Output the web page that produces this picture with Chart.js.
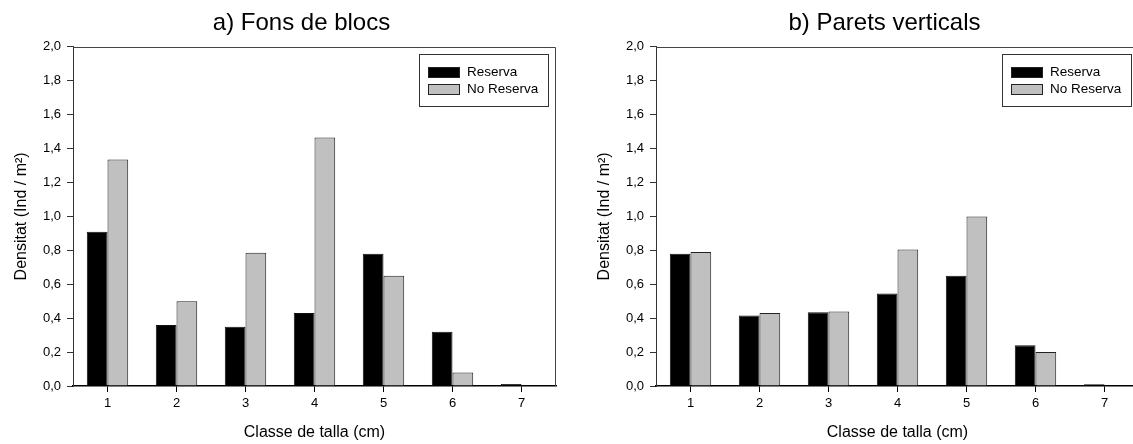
<!DOCTYPE html>
<html>
<head>
<meta charset="utf-8">
<script src="https://cdn.jsdelivr.net/npm/chart.js@4/dist/chart.umd.min.js"></script>
<style>
  html, body { margin: 0; padding: 0; background: #fff; overflow: hidden; width: 1133px; height: 444px; }
  #wrap { position: relative; width: 1133px; height: 444px; overflow: hidden; }
  canvas { position: absolute; top: 0; }
  #c1 { left: 0px; }
  #c2 { left: 583px; }
</style>
</head>
<body>
<div id="wrap">
  <canvas id="c1" width="603" height="444"></canvas>
  <canvas id="c2" width="603" height="444"></canvas>
</div>
<script>
// ---- Data ----
const categories = ['1', '2', '3', '4', '5', '6', '7'];
const seriesNames = ['Reserva', 'No Reserva'];
const titleA = 'a) Fons de blocs';
const titleB = 'b) Parets verticals';
const blocsReserva   = [0.91, 0.36, 0.35, 0.43, 0.78, 0.32, 0.012];
const blocsNoReserva = [1.335, 0.50, 0.785, 1.465, 0.65, 0.08, 0.0];
const paretsReserva   = [0.78, 0.415, 0.435, 0.545, 0.65, 0.24, 0.01];
const paretsNoReserva = [0.79, 0.43, 0.44, 0.805, 1.0, 0.20, 0.0];
const yTicks = [0, 0.2, 0.4, 0.6, 0.8, 1.0, 1.2, 1.4, 1.6, 1.8, 2.0];
const xTitle = 'Classe de talla (cm)';
const yTitle = 'Densitat (Ind / m\u00B2)';

const FONT = '"Liberation Sans", Arial, Helvetica, sans-serif';
const colors = ['#000000', '#c0c0c0'];

const framePlugin = {
  id: 'frame',
  afterDatasetsDraw(chart) {
    const { ctx, chartArea: a } = chart;
    ctx.save();
    ctx.strokeStyle = '#444';
    ctx.lineWidth = 1;
    ctx.beginPath();
    const t = Math.round(a.top) + 0.5;
    const r = Math.round(a.right) - 0.5;
    ctx.moveTo(a.left, t);
    ctx.lineTo(r, t);
    ctx.lineTo(r, a.bottom);
    ctx.stroke();
    ctx.restore();
  }
};

const boxLegend = {
  id: 'boxLegend',
  afterDraw(chart) {
    const { ctx, chartArea: a } = chart;
    const w = 129, h = 52;
    const x = Math.round(a.right - 8.5 - w), y = Math.round(a.top + 7.5);
    ctx.save();
    ctx.fillStyle = '#fff';
    ctx.fillRect(x, y, w, h);
    ctx.strokeStyle = '#333';
    ctx.lineWidth = 1;
    ctx.strokeRect(x + 0.5, y + 0.5, w, h);
    ctx.font = '13.5px ' + FONT;
    ctx.textBaseline = 'middle';
    ctx.textAlign = 'left';
    chart.data.datasets.forEach((ds, i) => {
      const cy = y + 18 + i * 17.5;
      const sy = Math.round(cy - 5.5);
      ctx.fillStyle = ds.backgroundColor;
      ctx.fillRect(x + 9, sy, 32, 11);
      ctx.strokeStyle = '#222';
      ctx.strokeRect(x + 9.5, sy + 0.5, 31, 10);
      ctx.fillStyle = '#000';
      ctx.fillText(ds.label, x + 48, cy);
    });
    ctx.restore();
  }
};

function makeChart(id, title, resVals, noResVals) {
  return new Chart(document.getElementById(id), {
    type: 'bar',
    data: {
      labels: categories,
      datasets: [
        { label: seriesNames[0], data: resVals, backgroundColor: colors[0], borderColor: '#111', borderWidth: 1, borderSkipped: 'bottom' },
        { label: seriesNames[1], data: noResVals, backgroundColor: colors[1], borderColor: '#222', borderWidth: 1, borderSkipped: 'bottom' }
      ]
    },
    options: {
      responsive: false,
      animation: false,
      events: [],
      layout: { padding: 0 },
      datasets: { bar: { categoryPercentage: 0.6, barPercentage: 1.0 } },
      plugins: {
        legend: { display: false },
        tooltip: { enabled: false },
        title: {
          display: true,
          text: title,
          color: '#000',
          font: { family: FONT, size: 24, weight: 'normal', lineHeight: 1.2 },
          padding: { top: 9, bottom: 9 }
        }
      },
      scales: {
        x: {
          offset: true,
          grid: { display: true, offset: false, drawOnChartArea: false, drawTicks: true, tickLength: 6, color: '#000', lineWidth: 1 },
          border: { display: true, color: '#000', width: 1.5 },
          ticks: { color: '#000', font: { family: FONT, size: 13 }, padding: 4, maxRotation: 0 },
          title: { display: true, text: xTitle, color: '#000', font: { family: FONT, size: 16 }, padding: { top: 0, bottom: 1.5 } },
          afterFit: s => { s.height = 58; }
        },
        y: {
          min: 0, max: 2,
          afterBuildTicks: s => { s.ticks = yTicks.map(v => ({ value: v })); },
          grid: { display: true, drawOnChartArea: false, drawTicks: true, tickLength: 6, color: '#333', lineWidth: 1 },
          border: { display: true, color: '#333', width: 1 },
          ticks: {
            color: '#000', font: { family: FONT, size: 13 }, padding: 6,
            callback: v => Number(v).toFixed(1).replace('.', ',')
          },
          title: { display: true, text: yTitle, color: '#000', font: { family: FONT, size: 16 }, padding: { top: 12, bottom: 0 } },
          afterFit: s => { s.width = 73; }
        },
        yR: {
          type: 'linear',
          position: 'right',
          display: true,
          grid: { display: false, drawTicks: false },
          border: { display: false },
          ticks: { display: false },
          afterFit: s => { s.width = 47; }
        }
      }
    },
    plugins: [framePlugin, boxLegend]
  });
}

makeChart('c1', titleA, blocsReserva, blocsNoReserva);
makeChart('c2', titleB, paretsReserva, paretsNoReserva);
</script>
</body>
</html>
